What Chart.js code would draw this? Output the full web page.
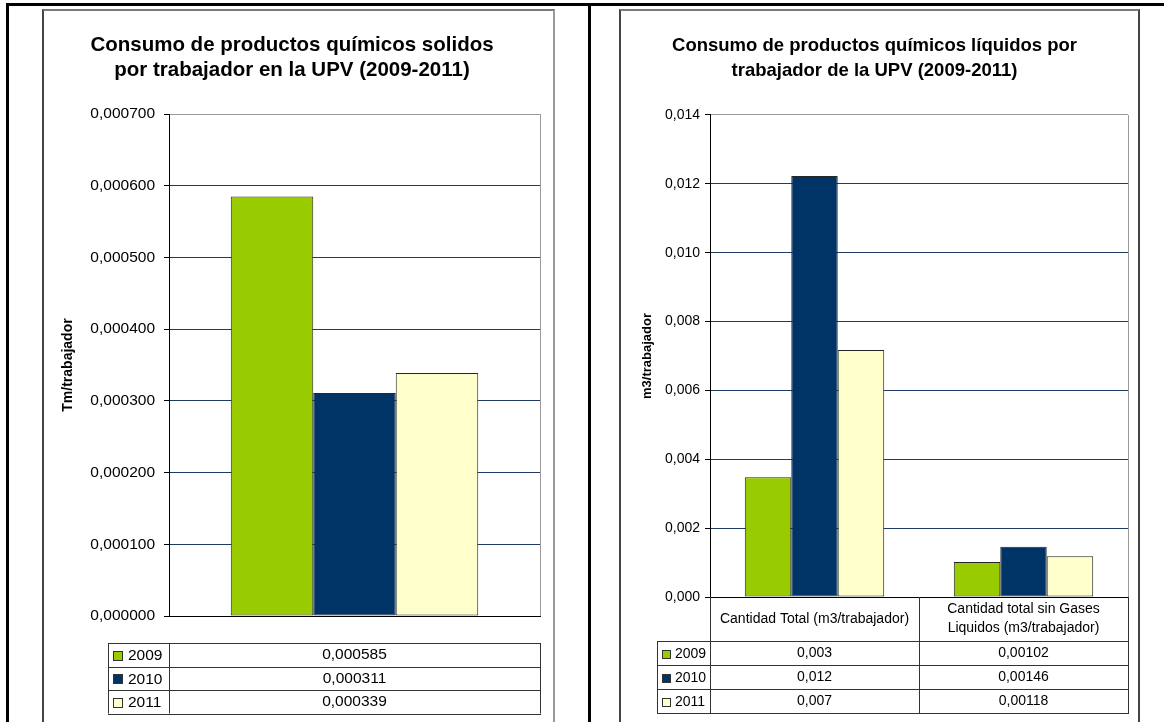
<!DOCTYPE html>
<html lang="es">
<head>
<meta charset="utf-8">
<title>Consumo de productos químicos por trabajador - UPV 2009-2011</title>
<script src="https://cdn.jsdelivr.net/npm/chart.js@4/dist/chart.umd.min.js"></script>
<style>
  html, body { margin: 0; padding: 0; background: #fff; }
  body { position: relative; width: 1164px; height: 722px; overflow: hidden; }
  .rule { position: absolute; background: #000; }
  .frame { position: absolute; top: 9px; height: 720px; border-top: 2px solid #7a7a7a; border-left: 2px solid #444; border-right: 2px solid #9a9a9a; }
  .frame canvas { display: block; }
</style>
</head>
<body>
<div class="rule" style="left:6px;top:3px;width:1158px;height:3px"></div>
<div class="rule" style="left:6px;top:3px;width:3px;height:719px"></div>
<div class="rule" style="left:588px;top:3px;width:3px;height:719px"></div>

<div class="frame" style="left:42px;width:509px"><canvas id="chart-solidos" width="509" height="711"></canvas></div>
<div class="frame" style="left:619px;width:517px;border-right-color:#444"><canvas id="chart-liquidos" width="517" height="711"></canvas></div>

<script>
const years = ['2009', '2010', '2011'];
const yearColors = ['#99CC00', '#003366', '#FFFFCC'];

// productos sólidos, Tm/trabajador
const solidCategories = [['']];
const solid2009 = [0.000585];
const solid2010 = [0.000311];
const solid2011 = [0.000339];
const solidMax = 0.0007;
const solidStep = 0.0001;
const solidTickDecimals = 6;
const solidTableDecimals = [6];

// productos líquidos, m3/trabajador
const liquidCategories = [
  ['Cantidad Total (m3/trabajador)'],
  ['Cantidad total sin Gases', 'Liquidos (m3/trabajador)']
];
const liquid2009 = [0.00348, 0.00102];
const liquid2010 = [0.01223, 0.00146];
const liquid2011 = [0.00717, 0.00118];
const liquidMax = 0.014;
const liquidStep = 0.002;
const liquidTickDecimals = 3;
const liquidTableDecimals = [3, 5];

const FONT = '"Liberation Sans", Arial, sans-serif';
const GRID = '#1F3B63';

const comma = (v, d) => v.toFixed(d).replace('.', ',');

// gray right-hand edge of the plot area
const plotFrame = {
  id: 'plotFrame',
  beforeDatasetsDraw(chart) {
    const { ctx, chartArea: a } = chart;
    ctx.save();
    ctx.strokeStyle = '#9a9a9a';
    ctx.lineWidth = 1;
    ctx.beginPath();
    ctx.moveTo(Math.round(a.right) + 0.5, a.top);
    ctx.lineTo(Math.round(a.right) + 0.5, a.bottom);
    ctx.stroke();
    ctx.restore();
  }
};

// data table under the axis, one column per category, one row per year
const dataTable = {
  id: 'dataTable',
  afterDraw(chart, args, opts) {
    const { ctx, chartArea: area, scales: { x } } = chart;
    const sets = chart.data.datasets;
    const labels = chart.data.labels;
    const half = (area.right - area.left) / labels.length / 2;
    const edges = [area.left].concat(labels.map((_, i) => x.getPixelForValue(i) + half));
    const top = area.bottom + opts.gapTop;
    const bodyTop = opts.header ? top + opts.headerHeight : top;
    const bottom = bodyTop + sets.length * opts.rowHeight;
    const crisp = v => Math.round(v) + 0.5;

    ctx.save();
    ctx.strokeStyle = '#333';
    ctx.lineWidth = 1;
    ctx.beginPath();
    for (let r = 0; r <= sets.length; r++) {
      const y = crisp(bodyTop + r * opts.rowHeight);
      ctx.moveTo(opts.legendLeft, y);
      ctx.lineTo(area.right + 1, y);
    }
    edges.forEach(ex => {
      ctx.moveTo(crisp(ex), top);
      ctx.lineTo(crisp(ex), bottom);
    });
    ctx.moveTo(crisp(opts.legendLeft), bodyTop);
    ctx.lineTo(crisp(opts.legendLeft), bottom);
    ctx.stroke();

    ctx.font = opts.fontSize + 'px ' + FONT;
    ctx.textBaseline = 'middle';
    ctx.fillStyle = '#000';

    if (opts.header) {
      ctx.textAlign = 'center';
      const mid = top + opts.headerHeight / 2;
      labels.forEach((lines, i) => {
        const cx = x.getPixelForValue(i);
        lines.forEach((t, k) => {
          ctx.fillText(t, cx, mid + (k - (lines.length - 1) / 2) * opts.lineHeight);
        });
      });
    }

    sets.forEach((ds, r) => {
      const cy = bodyTop + (r + 0.5) * opts.rowHeight;
      ctx.textAlign = 'center';
      ctx.fillStyle = '#000';
      ds.data.forEach((v, c) => ctx.fillText(comma(v, opts.decimals[c]), x.getPixelForValue(c), cy));

      const kx = opts.legendLeft + opts.keyInset;
      const ky = Math.round(cy - opts.keySize / 2) + 1;
      ctx.fillStyle = ds.backgroundColor;
      ctx.fillRect(kx, ky, opts.keySize, opts.keySize);
      ctx.strokeRect(kx + 0.5, ky + 0.5, opts.keySize - 1, opts.keySize - 1);

      ctx.textAlign = 'left';
      ctx.fillStyle = '#000';
      ctx.fillText(ds.label, kx + opts.keySize + opts.textGap, cy + 1);
    });
    ctx.restore();
  }
};

function makeChart(id, cfg) {
  const near = (a, b) => Math.abs(a - b) < cfg.step / 100;
  return new Chart(document.getElementById(id), {
    type: 'bar',
    data: {
      labels: cfg.labels,
      datasets: cfg.series.map((values, i) => ({
        label: years[i],
        data: values,
        backgroundColor: yearColors[i],
        borderColor: '#262626',
        borderWidth: 1,
        borderSkipped: false,
        barPercentage: 1,
        categoryPercentage: 0.667
      }))
    },
    options: {
      responsive: false,
      animation: false,
      devicePixelRatio: 1,
      layout: { padding: { left: 0, right: cfg.padRight, top: 0, bottom: 0 } },
      plugins: {
        legend: { display: false },
        tooltip: { enabled: false },
        title: {
          display: true,
          text: cfg.title,
          color: '#000',
          font: { family: FONT, size: cfg.titleSize, weight: 'bold', lineHeight: cfg.titleLine },
          padding: { top: cfg.titleTop, bottom: cfg.titleGap }
        },
        dataTable: cfg.table
      },
      scales: {
        x: {
          ticks: { display: false },
          grid: { display: false },
          border: { color: '#000', width: 1 },
          afterFit: s => { s.height = cfg.tableSpace; }
        },
        y: {
          min: 0,
          max: cfg.max,
          ticks: {
            stepSize: cfg.step,
            color: '#000',
            padding: cfg.tickPad,
            font: { family: FONT, size: cfg.tickSize },
            callback: v => comma(v, cfg.tickDecimals)
          },
          grid: {
            color: c => (c.tick && near(c.tick.value, cfg.max)) ? '#9a9a9a' : GRID,
            tickColor: '#000',
            tickLength: 5,
            lineWidth: 1
          },
          border: { color: '#000', width: 1 },
          title: {
            display: true,
            text: cfg.axisTitle,
            color: '#000',
            font: { family: FONT, size: cfg.axisTitleSize, weight: 'bold' },
            padding: { top: cfg.axisTitlePad }
          },
          afterFit: s => { s.width = cfg.axisWidth; }
        }
      }
    },
    plugins: [plotFrame, dataTable]
  });
}

makeChart('chart-solidos', {
  labels: solidCategories,
  series: [solid2009, solid2010, solid2011],
  title: ['Consumo de productos químicos solidos', 'por trabajador en la UPV (2009-2011)'],
  titleSize: 20.5,
  titleLine: 1.22,
  titleTop: 22,
  titleGap: 31,
  axisTitle: 'Tm/trabajador',
  axisTitleSize: 14,
  axisTitlePad: 16,
  axisWidth: 125,
  padRight: 13,
  tableSpace: 106,
  max: solidMax,
  step: solidStep,
  tickDecimals: solidTickDecimals,
  tickSize: 15.5,
  tickPad: 9,
  table: {
    header: false, gapTop: 27, headerHeight: 0, rowHeight: 23.5, lineHeight: 19,
    legendLeft: 64, keyInset: 5, keySize: 10, textGap: 5, fontSize: 15.5,
    decimals: solidTableDecimals
  }
});

makeChart('chart-liquidos', {
  labels: liquidCategories,
  series: [liquid2009, liquid2010, liquid2011],
  title: ['Consumo de productos químicos líquidos por', 'trabajador de la UPV (2009-2011)'],
  titleSize: 18.5,
  titleLine: 1.35,
  titleTop: 22,
  titleGap: 32,
  axisTitle: 'm3/trabajador',
  axisTitleSize: 13,
  axisTitlePad: 19,
  axisWidth: 89,
  padRight: 10,
  tableSpace: 125,
  max: liquidMax,
  step: liquidStep,
  tickDecimals: liquidTickDecimals,
  tickSize: 14,
  tickPad: 5,
  table: {
    header: true, gapTop: 0, headerHeight: 44, rowHeight: 24, lineHeight: 19,
    legendLeft: 36, keyInset: 5, keySize: 9, textGap: 4, fontSize: 14,
    decimals: liquidTableDecimals
  }
});
</script>
</body>
</html>
